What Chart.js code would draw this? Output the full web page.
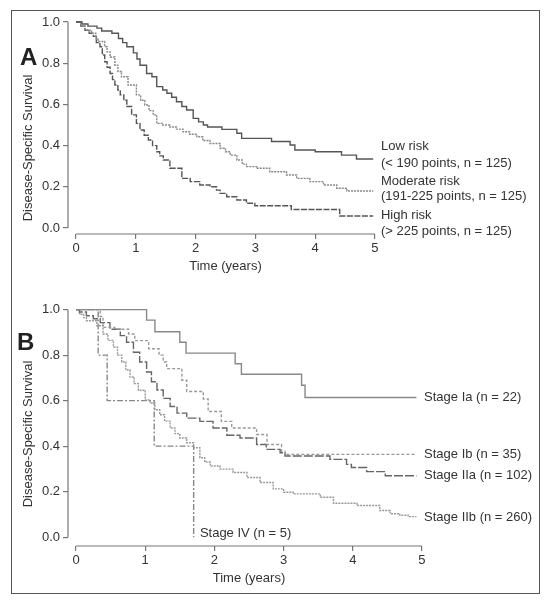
<!DOCTYPE html>
<html>
<head>
<meta charset="utf-8">
<script src="https://cdn.jsdelivr.net/npm/chart.js@4.4.1/dist/chart.umd.min.js"></script>
<style>
  body { margin: 0; background: #fff; width: 549px; height: 601px; position: relative; overflow: hidden; }
  #frame { position: absolute; left: 11px; top: 10px; width: 527px; height: 582px; border: 1.5px solid #555; }
  canvas { position: absolute; left: 0; }
</style>
</head>
<body>
<div id="frame"></div>
<canvas id="chartA" width="549" height="290" style="top:0"></canvas>
<canvas id="chartB" width="549" height="311" style="top:290px"></canvas>
<script>
// tick labels
const xTicks = [0, 1, 2, 3, 4, 5];
const yTicks = [0, 0.2, 0.4, 0.6, 0.8, 1.0];

// Panel A - risk groups
const riskNames = [
  ['Low risk', '(< 190 points, n = 125)'],
  ['Moderate risk', '(191-225 points, n = 125)'],
  ['High risk', '(> 225 points, n = 125)']
];
const lowT  = [0, 0.1, 0.2, 0.35, 0.43, 0.6, 0.71, 0.78, 0.85, 0.96, 1.02, 1.07, 1.18, 1.27, 1.35, 1.45, 1.52, 1.6, 1.68, 1.77, 1.85, 1.96, 2.05, 2.13, 2.2, 2.44, 2.69, 2.77, 3.27, 3.58, 3.66, 4.0, 4.44, 4.69, 4.97];
const lowS  = [1, 0.99, 0.98, 0.97, 0.956, 0.945, 0.92, 0.9, 0.88, 0.85, 0.82, 0.79, 0.75, 0.734, 0.686, 0.67, 0.654, 0.635, 0.613, 0.59, 0.573, 0.532, 0.515, 0.5, 0.49, 0.479, 0.46, 0.435, 0.42, 0.403, 0.379, 0.37, 0.354, 0.335, 0.335];
const modT  = [0, 0.08, 0.15, 0.26, 0.33, 0.37, 0.48, 0.52, 0.57, 0.65, 0.7, 0.76, 0.87, 1.01, 1.08, 1.15, 1.22, 1.29, 1.35, 1.45, 1.57, 1.68, 1.79, 1.9, 2.02, 2.12, 2.24, 2.41, 2.5, 2.58, 2.69, 2.78, 2.85, 3.02, 3.24, 3.52, 3.69, 3.91, 4.14, 4.36, 4.53, 4.97];
const modS  = [1, 0.98, 0.96, 0.945, 0.92, 0.905, 0.88, 0.855, 0.83, 0.79, 0.76, 0.734, 0.694, 0.646, 0.62, 0.597, 0.57, 0.549, 0.508, 0.5, 0.49, 0.48, 0.467, 0.455, 0.443, 0.425, 0.41, 0.387, 0.37, 0.354, 0.33, 0.31, 0.298, 0.29, 0.273, 0.257, 0.241, 0.225, 0.209, 0.193, 0.18, 0.18];
const highT = [0, 0.08, 0.15, 0.22, 0.29, 0.34, 0.4, 0.44, 0.48, 0.52, 0.57, 0.61, 0.65, 0.7, 0.74, 0.8, 0.85, 0.93, 1.01, 1.07, 1.14, 1.21, 1.28, 1.35, 1.4, 1.46, 1.57, 1.77, 1.91, 2.07, 2.24, 2.35, 2.41, 2.52, 2.69, 2.85, 2.99, 3.6, 4.41, 4.97];
const highS = [1, 0.98, 0.96, 0.945, 0.93, 0.9, 0.88, 0.84, 0.807, 0.78, 0.75, 0.72, 0.694, 0.67, 0.646, 0.62, 0.59, 0.549, 0.508, 0.476, 0.45, 0.427, 0.4, 0.37, 0.35, 0.33, 0.29, 0.241, 0.225, 0.209, 0.2, 0.184, 0.168, 0.152, 0.136, 0.12, 0.108, 0.09, 0.058, 0.058];

// Panel B - stages
const stageNames = ['Stage Ia (n = 22)', 'Stage Ib (n = 35)', 'Stage IIa (n = 102)', 'Stage IIb (n = 260)', 'Stage IV (n = 5)'];
const iaT  = [0, 1.02, 1.14, 1.5, 1.59, 2.3, 2.39, 3.26, 3.31, 4.92];
const iaS  = [1, 0.954, 0.903, 0.857, 0.809, 0.762, 0.716, 0.668, 0.614, 0.614];
const ibT  = [0, 0.35, 0.39, 0.56, 0.76, 0.85, 1.05, 1.2, 1.26, 1.31, 1.53, 1.6, 1.84, 1.91, 2.1, 2.25, 2.61, 2.76, 2.97, 3.02, 4.92];
const ibS  = [1, 0.97, 0.922, 0.914, 0.893, 0.864, 0.828, 0.8, 0.77, 0.741, 0.69, 0.64, 0.607, 0.552, 0.509, 0.48, 0.451, 0.407, 0.378, 0.364, 0.364];
const iiaT = [0, 0.05, 0.15, 0.25, 0.35, 0.49, 0.64, 0.73, 0.83, 0.92, 1.02, 1.09, 1.17, 1.26, 1.36, 1.46, 1.6, 1.79, 1.98, 2.18, 2.37, 2.61, 2.75, 2.95, 3.02, 3.67, 3.91, 3.98, 4.2, 4.47, 4.92];
const iiaS = [1, 0.99, 0.973, 0.96, 0.943, 0.914, 0.886, 0.857, 0.813, 0.77, 0.726, 0.683, 0.647, 0.61, 0.574, 0.545, 0.523, 0.509, 0.48, 0.448, 0.436, 0.407, 0.386, 0.371, 0.357, 0.342, 0.32, 0.306, 0.288, 0.27, 0.27];
const iibT = [0, 0.05, 0.11, 0.15, 0.3, 0.39, 0.46, 0.54, 0.6, 0.66, 0.72, 0.78, 0.84, 0.9, 1.0, 1.07, 1.14, 1.21, 1.28, 1.36, 1.43, 1.5, 1.6, 1.7, 1.79, 1.86, 1.94, 2.08, 2.27, 2.47, 2.66, 2.85, 3.0, 3.14, 3.53, 3.72, 4.06, 4.39, 4.54, 4.68, 4.8, 4.92];
const iibS = [1, 0.98, 0.965, 0.951, 0.929, 0.893, 0.865, 0.835, 0.8, 0.77, 0.735, 0.704, 0.675, 0.646, 0.603, 0.59, 0.56, 0.538, 0.51, 0.48, 0.455, 0.436, 0.415, 0.393, 0.349, 0.33, 0.313, 0.299, 0.284, 0.262, 0.24, 0.212, 0.197, 0.19, 0.175, 0.149, 0.139, 0.117, 0.103, 0.096, 0.09, 0.09];
const ivT  = [0, 0.32, 0.45, 1.13, 1.7];
const ivS  = [1, 0.8, 0.6, 0.4, 0];

const FONT = '"Liberation Sans", Arial, Helvetica, sans-serif';

function km(ts, ss) {
  return ts.map((t, i) => ({ x: t, y: ss[i] }));
}

// horizontal first, then the drop (Kaplan-Meier steps)
function curve(ts, ss, color, dash) {
  return {
    data: km(ts, ss),
    borderColor: color,
    borderWidth: 1.4,
    borderDash: dash,
    stepped: 'before',
    pointRadius: 0,
    fill: false
  };
}

// axis lines, letter, titles and curve labels
const decor = {
  id: 'decor',
  afterDraw(chart, args, o) {
    const { ctx, chartArea, scales: { x, y } } = chart;
    ctx.save();
    ctx.strokeStyle = '#777';
    ctx.lineWidth = 1.2;
    ctx.beginPath();
    ctx.moveTo(chartArea.left, y.getPixelForValue(0));
    ctx.lineTo(chartArea.left, y.getPixelForValue(1));
    ctx.moveTo(x.getPixelForValue(0), chartArea.bottom);
    ctx.lineTo(x.getPixelForValue(5), chartArea.bottom);
    ctx.stroke();

    ctx.fillStyle = '#222';
    ctx.font = 'bold 24px ' + FONT;
    ctx.textAlign = 'left';
    ctx.textBaseline = 'alphabetic';
    ctx.fillText(o.letter, o.letterX, o.letterY);

    ctx.fillStyle = '#333';
    ctx.font = '13px ' + FONT;
    ctx.save();
    ctx.translate(o.yTitleX, o.yTitleY);
    ctx.rotate(-Math.PI / 2);
    ctx.textAlign = 'center';
    ctx.textBaseline = 'middle';
    ctx.fillText('Disease-Specific Survival', 0, 0);
    ctx.restore();

    ctx.textAlign = 'center';
    ctx.textBaseline = 'middle';
    ctx.fillText('Time (years)', x.getPixelForValue(2.5), o.xTitleY);

    ctx.textAlign = 'left';
    o.labels.forEach(l => {
      ctx.fillText(l.text, x.getPixelForValue(l.x), y.getPixelForValue(l.y));
    });
    ctx.restore();
  }
};

function makeOptions(xr, yr, pad, yW, xH, decorOpts) {
  return {
    responsive: false,
    animation: false,
    layout: { padding: pad },
    plugins: { legend: { display: false }, tooltip: { enabled: false }, decor: decorOpts },
    scales: {
      x: {
        type: 'linear', min: xr[0], max: xr[1],
        afterBuildTicks: s => { s.ticks = xTicks.map(v => ({ value: v })); },
        afterFit: s => { s.height = xH; },
        border: { display: false },
        grid: { drawOnChartArea: false, drawTicks: true, tickLength: 5, color: '#777', lineWidth: 1.2 },
        ticks: { color: '#333', font: { family: FONT, size: 13 }, padding: 2, maxRotation: 0, callback: v => String(v) }
      },
      y: {
        type: 'linear', min: yr[0], max: yr[1],
        afterBuildTicks: s => { s.ticks = yTicks.map(v => ({ value: v })); },
        afterFit: s => { s.width = yW; },
        border: { display: false },
        grid: { drawOnChartArea: false, drawTicks: true, tickLength: 5, color: '#777', lineWidth: 1.2 },
        ticks: { color: '#333', font: { family: FONT, size: 13 }, padding: 3, callback: v => v.toFixed(1) }
      }
    }
  };
}

new Chart(document.getElementById('chartA'), {
  type: 'line',
  data: {
    datasets: [
      curve(lowT, lowS, '#555', []),
      curve(modT, modS, '#888', [2, 1]),
      curve(highT, highS, '#555', [6, 1.5])
    ]
  },
  options: makeOptions([-0.134, 5.134], [-0.029, 1.029], { left: 0, right: 166, top: 16, bottom: 0 }, 68, 56, {
    letter: 'A', letterX: 20, letterY: 65, yTitleX: 28, yTitleY: 148, xTitleY: 266,
    labels: [
      { text: riskNames[0][0], x: 5.1, y: 0.395 },
      { text: riskNames[0][1], x: 5.1, y: 0.314 },
      { text: riskNames[1][0], x: 5.1, y: 0.228 },
      { text: riskNames[1][1], x: 5.1, y: 0.152 },
      { text: riskNames[2][0], x: 5.1, y: 0.063 },
      { text: riskNames[2][1], x: 5.1, y: -0.018 }
    ]
  }),
  plugins: [decor]
});

new Chart(document.getElementById('chartB'), {
  type: 'line',
  data: {
    datasets: [
      curve(iaT, iaS, '#888', []),
      curve(ibT, ibS, '#999', [3, 2]),
      curve(iiaT, iiaS, '#666', [9, 2]),
      curve(iibT, iibS, '#999', [2, 1]),
      curve(ivT, ivS, '#888', [6, 2, 2, 2])
    ]
  },
  options: makeOptions([-0.116, 5.116], [-0.039, 1.039], { left: 0, right: 119, top: 8, bottom: 0 }, 68, 55, {
    letter: 'B', letterX: 17, letterY: 60, yTitleX: 28, yTitleY: 144, xTitleY: 288,
    labels: [
      { text: stageNames[0], x: 5.03, y: 0.613 },
      { text: stageNames[1], x: 5.03, y: 0.365 },
      { text: stageNames[2], x: 5.03, y: 0.27 },
      { text: stageNames[3], x: 5.03, y: 0.087 },
      { text: stageNames[4], x: 1.79, y: 0.015 }
    ]
  }),
  plugins: [decor]
});
</script>
</body>
</html>
